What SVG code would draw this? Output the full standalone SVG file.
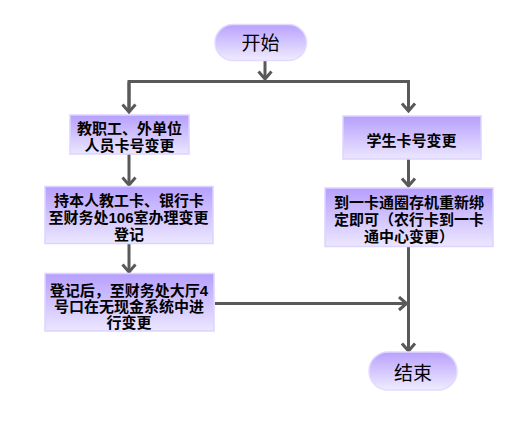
<svg xmlns="http://www.w3.org/2000/svg" width="529" height="423" viewBox="0 0 529 423">
  <defs>
    <linearGradient id="gBox" x1="0" y1="0" x2="0" y2="1">
      <stop offset="0" stop-color="#b69ffd"/>
      <stop offset="1" stop-color="#ece7ff"/>
    </linearGradient>
    <linearGradient id="gTerm" x1="0" y1="0" x2="0" y2="1">
      <stop offset="0" stop-color="#b9a1fe"/>
      <stop offset="1" stop-color="#f0ecff"/>
    </linearGradient>
    <marker id="ah" viewBox="-10 -8 12 16" markerWidth="12" markerHeight="16" refX="0" refY="0" orient="auto" markerUnits="userSpaceOnUse">
      <path d="M-7.5,-6.5 L0,0 L-7.5,6.5" fill="none" stroke="#595959" stroke-width="3" stroke-linejoin="miter"/>
    </marker>
    <style>
      .box { fill: url(#gBox); stroke: #ddd3ff; stroke-width: 1.5; }
      .term { fill: url(#gTerm); stroke: #e2daff; stroke-width: 1.5; }
      .t { font-family: "Liberation Sans", "Noto Sans CJK SC", sans-serif; font-size: 15px; font-weight: bold; fill: #000; text-anchor: middle; }
      .tt { font-family: "Liberation Sans", "Noto Sans CJK SC", sans-serif; font-size: 19px; fill: #000; text-anchor: middle; }
      .c { fill: none; stroke: #595959; stroke-width: 3; }
      .ca { fill: none; stroke: #595959; stroke-width: 3; marker-end: url(#ah); }
    </style>
  </defs>

  <g id="connectors">
    <path class="ca" d="M265,61 V79"/>
    <path class="c" d="M129,112 V81.5 H408.5 V111"/>
    <path class="ca" d="M129,82 V112"/>
    <path class="ca" d="M408.5,82 V111"/>
    <path class="ca" d="M129,154 V185"/>
    <path class="ca" d="M408.5,159 V186"/>
    <path class="ca" d="M129,244 V272"/>
    <path class="ca" d="M215,303.5 H406.5"/>
    <path class="ca" d="M408.5,247 V351"/>
  </g>

  <g id="start">
    <rect class="term" x="215" y="24.5" width="91.5" height="36" rx="18" ry="18"/>
    <text class="tt" x="260.5" y="49.5">开始</text>
  </g>

  <g id="staff">
    <rect class="box" x="70" y="115" width="119" height="39"/>
    <text class="t"><tspan x="129.5" y="133.5">教职工、外单位</tspan><tspan x="129.5" y="150.5">人员卡号变更</tspan></text>
  </g>

  <g id="student">
    <rect class="box" x="343" y="116" width="138" height="43"/>
    <text class="t" x="411.5" y="145.5">学生卡号变更</text>
  </g>

  <g id="register">
    <rect class="box" x="45" y="186.5" width="168" height="57"/>
    <text class="t"><tspan x="129" y="205.5">持本人教工卡、银行卡</tspan><tspan x="128.5" y="222.5">至财务处106室办理变更</tspan><tspan x="129" y="239.5">登记</tspan></text>
  </g>

  <g id="rebind">
    <rect class="box" x="325" y="188" width="168" height="58.5"/>
    <text class="t"><tspan x="409" y="207.5">到一卡通圈存机重新绑</tspan><tspan x="409" y="224.5">定即可（农行卡到一卡</tspan><tspan x="409" y="241.5">通中心变更）</tspan></text>
  </g>

  <g id="change">
    <rect class="box" x="45" y="273.5" width="169" height="57.5"/>
    <text class="t"><tspan x="129" y="296">登记后，至财务处大厅4</tspan><tspan x="129" y="312">号口在无现金系统中进</tspan><tspan x="129" y="328">行变更</tspan></text>
  </g>

  <g id="end">
    <rect class="term" x="369" y="352" width="88" height="38" rx="19" ry="19"/>
    <text class="tt" x="413" y="379.5">结束</text>
  </g>
</svg>
